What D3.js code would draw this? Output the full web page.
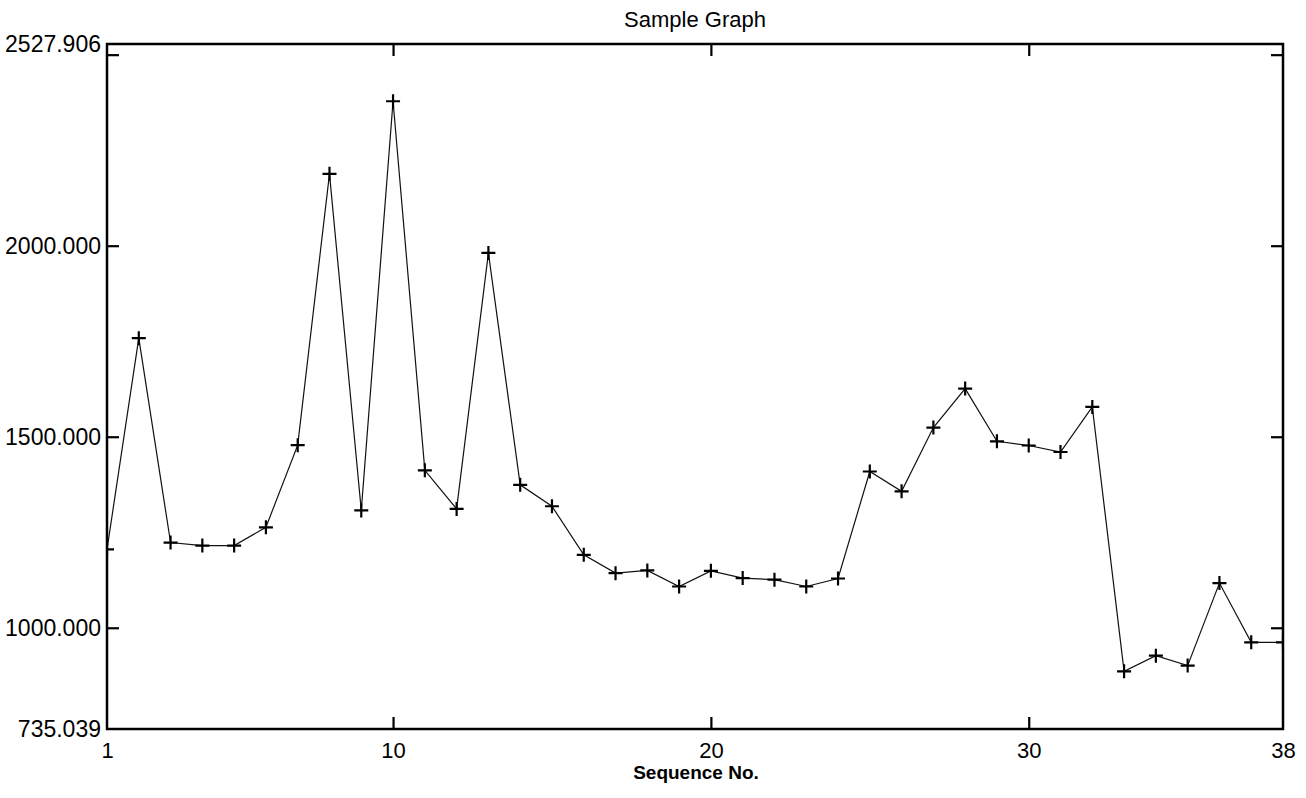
<!DOCTYPE html>
<html>
<head>
<meta charset="utf-8">
<script src="https://cdn.jsdelivr.net/npm/d3@7"></script>
<style>
    body { margin: 0; background: #fff; }
    svg { display: block; font-family: "Liberation Sans", Arial, sans-serif; }
    .tick-label { fill: #000; }
</style>
</head>
<body>
<div id="chart"></div>
<script>
const seqNo = [1, 2, 3, 4, 5, 6, 7, 8, 9, 10, 11, 12, 13, 14, 15, 16, 17, 18, 19,
    20, 21, 22, 23, 24, 25, 26, 27, 28, 29, 30, 31, 32, 33, 34, 35, 36, 37, 38];
const seqValues = [1205, 1758, 1223, 1215, 1215, 1263, 1478, 2188, 1307, 2378,
    1412, 1311, 1981, 1374, 1318, 1191, 1143, 1150, 1108, 1149,
    1130, 1126, 1108, 1129, 1409, 1357, 1524, 1626, 1488, 1477,
    1460, 1578, 886, 927, 901, 1117, 962, 962];

// axis setup
const yDomain = [735.039, 2527.906];
const xDomain = [1, 38];
const yTickMarks = [1000, 1500, 2000, 2500];
const yTickLabels = [735.039, 1000, 1500, 2000, 2527.906];
const xTickMarks = [10, 20, 30];
const xTickLabels = [1, 10, 20, 30, 38];
const chartTitle = 'Sample Graph';
const xTitle = 'Sequence No.';

const svgWidth = 1306, svgHeight = 798;
const margin = {top: 44, right: 23, bottom: 69, left: 107};
const width = svgWidth - margin.left - margin.right;
const height = svgHeight - margin.top - margin.bottom;

const data = seqNo.map((s, i) => ({seq: s, val: seqValues[i]}));

var svg = d3.select('#chart').append('svg')
    .attr('width', svgWidth)
    .attr('height', svgHeight);

svg.append('rect').attr('width', svgWidth).attr('height', svgHeight).attr('fill', '#fff');

var g = svg.append('g').attr('transform', `translate(${margin.left},${margin.top})`);

var xScale = d3.scaleLinear().domain(xDomain).range([0, width]);
var yScale = d3.scaleLinear().domain(yDomain).range([height, 0]);

// clip so the end markers are cut by the frame like in the scan
g.append('clipPath').attr('id', 'plot-clip')
    .append('rect').attr('width', width).attr('height', height);

// inward ticks on all four sides
function tickOnly(axis, values) {
    return axis.tickValues(values).tickSizeInner(-12).tickSizeOuter(0).tickFormat('');
}
function styleTicks(sel) {
    sel.select('.domain').remove();
    sel.selectAll('.tick line').attr('stroke', '#000').attr('stroke-width', 2.2);
}
g.append('g').call(tickOnly(d3.axisLeft(yScale), yTickMarks)).call(styleTicks);
g.append('g').attr('transform', `translate(${width},0)`)
    .call(tickOnly(d3.axisRight(yScale), yTickMarks)).call(styleTicks);
g.append('g').attr('transform', `translate(0,${height})`)
    .call(tickOnly(d3.axisBottom(xScale), xTickMarks)).call(styleTicks);
g.append('g').call(tickOnly(d3.axisTop(xScale), xTickMarks)).call(styleTicks);

// labels
var yLabels = g.append('g')
    .call(d3.axisLeft(yScale).tickValues(yTickLabels).tickSize(0).tickPadding(6)
        .tickFormat(d3.format('.3f')));
yLabels.select('.domain').remove();
yLabels.selectAll('text').attr('class', 'tick-label').style('font-size', '23px')
    .attr('font-family', null);

var xLabels = g.append('g').attr('transform', `translate(0,${height})`)
    .call(d3.axisBottom(xScale).tickValues(xTickLabels).tickSize(0).tickPadding(13)
        .tickFormat(d3.format('d')));
xLabels.select('.domain').remove();
xLabels.selectAll('text').attr('class', 'tick-label').style('font-size', '22px')
    .attr('font-family', null);

// the series line
var line = d3.line().x(d => xScale(d.seq)).y(d => yScale(d.val));
var plot = g.append('g').attr('clip-path', 'url(#plot-clip)');
plot.append('path')
    .datum(data)
    .attr('fill', 'none')
    .attr('stroke', '#111')
    .attr('stroke-width', 1.2)
    .attr('d', line);

// plus markers
const arm = 7;
plot.selectAll('.marker')
    .data(data)
    .enter()
    .append('path')
    .attr('class', 'marker')
    .attr('transform', d => `translate(${xScale(d.seq)},${yScale(d.val)})`)
    .attr('d', `M${-arm},0H${arm}M0,${-arm}V${arm}`)
    .attr('stroke', '#000')
    .attr('stroke-width', 2.2)
    .attr('fill', 'none');

// frame
g.append('rect')
    .attr('width', width)
    .attr('height', height)
    .attr('fill', 'none')
    .attr('stroke', '#000')
    .attr('stroke-width', 2.5);

// titles
svg.append('text')
    .attr('x', 695)
    .attr('y', 27)
    .attr('text-anchor', 'middle')
    .style('font-size', '22px')
    .text(chartTitle);

svg.append('text')
    .attr('x', 696)
    .attr('y', 779)
    .attr('text-anchor', 'middle')
    .style('font-size', '19px')
    .style('font-weight', 'bold')
    .text(xTitle);
</script>
</body>
</html>
